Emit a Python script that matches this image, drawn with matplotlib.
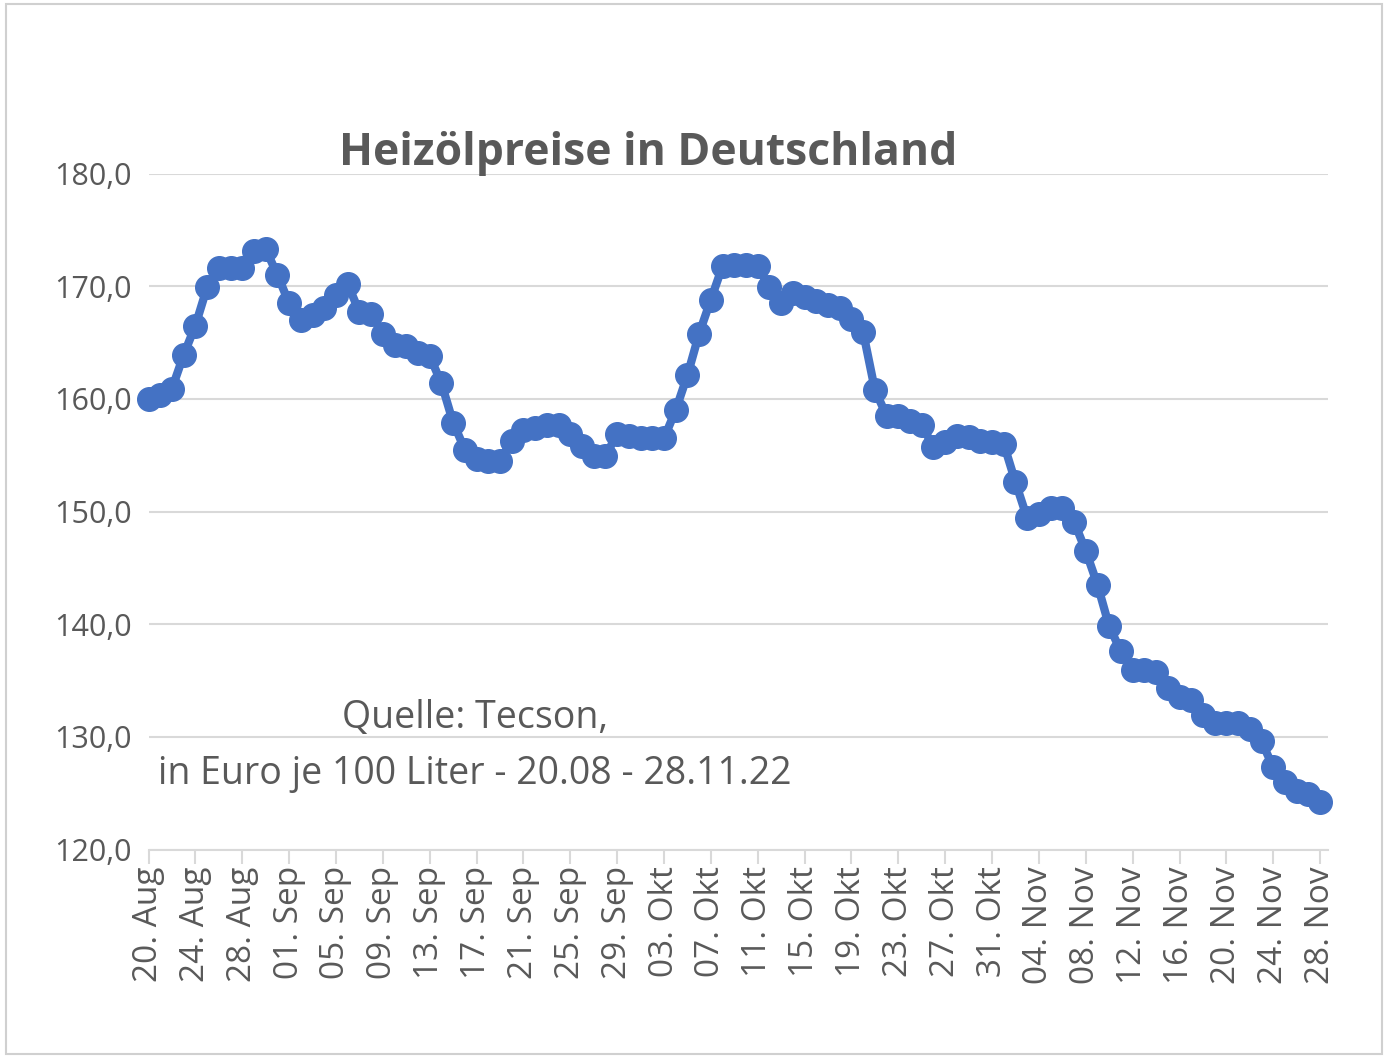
#!/usr/bin/env python3
"""Heizölpreise in Deutschland, 20.08 - 28.11.22."""

import datetime as dt

import matplotlib

matplotlib.use("Agg")
import matplotlib.pyplot as plt
from matplotlib.patches import Rectangle

START = dt.date(2022, 8, 20)
PRICES = [
    160.0, 160.3, 160.9, 163.9, 166.5, 169.9, 171.6, 171.6, 171.6, 173.1,
    173.3, 171.0, 168.5, 167.0, 167.4, 168.1, 169.2, 170.2, 167.7, 167.5,
    165.8, 164.8, 164.7, 164.1, 163.8, 161.4, 157.9, 155.5, 154.7, 154.5,
    154.5, 156.3, 157.2, 157.4, 157.7, 157.7, 156.9, 155.8, 154.9, 154.9,
    156.9, 156.7, 156.5, 156.5, 156.5, 159.0, 162.1, 165.8, 168.8, 171.8,
    171.9, 171.9, 171.8, 169.9, 168.5, 169.4, 169.0, 168.7, 168.3, 168.1,
    167.1, 165.9, 160.8, 158.5, 158.5, 158.0, 157.7, 155.7, 156.2, 156.7,
    156.6, 156.3, 156.2, 156.0, 152.6, 149.4, 149.8, 150.3, 150.3, 149.1,
    146.5, 143.5, 139.8, 137.6, 135.9, 135.9, 135.8, 134.3, 133.5, 133.3,
    131.9, 131.2, 131.2, 131.2, 130.7, 129.6, 127.3, 126.0, 125.2, 124.9,
    124.2,
]
MONTHS = {8: "Aug", 9: "Sep", 10: "Okt", 11: "Nov"}
Y_TICKS = [120, 130, 140, 150, 160, 170, 180]

FONT = "Open Sans"
GREY = "#595959"
BLUE = "#4472C4"

days = list(range(len(PRICES)))
tick_pos = list(range(0, len(PRICES), 4))
tick_labels = []
for d in tick_pos:
    date = START + dt.timedelta(days=d)
    tick_labels.append(f"{date.day:02d}. {MONTHS[date.month]}")

fig = plt.figure(figsize=(13.88, 10.58), dpi=100)
fig.patches.append(Rectangle((0.004, 0.004), 0.992, 0.992, transform=fig.transFigure,
                             fill=False, edgecolor="#d0d0d0", linewidth=1.5))
ax = fig.add_axes([0.107, 0.197, 0.85, 0.639])

ax.plot(days, PRICES, color=BLUE, linewidth=6, marker="o", markersize=17,
        markerfacecolor=BLUE, markeredgecolor=BLUE, zorder=3, clip_on=False)

ax.set_xlim(0, len(PRICES) - 1 + 0.7)
ax.set_ylim(120, 180)
ax.set_yticks(Y_TICKS)
ax.set_yticklabels([f"{v},0" for v in Y_TICKS], fontsize=22, color=GREY, family=FONT)
ax.set_xticks(tick_pos)
ax.set_xticklabels(tick_labels, rotation=90, fontsize=24, color=GREY, family=FONT)
ax.tick_params(axis="y", length=0, pad=12)
ax.tick_params(axis="x", length=10, color="#d9d9d9", width=1.5, pad=2)
ax.grid(axis="y", color="#d9d9d9", linewidth=1.5, zorder=0)
for side in ("top", "right", "left"):
    ax.spines[side].set_visible(False)
ax.spines["bottom"].set_color("#d9d9d9")
ax.spines["bottom"].set_linewidth(1.5)
ax.set_axisbelow(True)

fig.text(0.467, 0.855, "Heizölpreise in Deutschland", ha="center", va="center",
         fontsize=32, fontweight="bold", color=GREY, family=FONT)
fig.text(0.342, 0.321, "Quelle: Tecson,", ha="center", va="center",
         fontsize=27, color=GREY, family=FONT)
fig.text(0.342, 0.268, "in Euro je 100 Liter - 20.08 - 28.11.22", ha="center",
         va="center", fontsize=27, color=GREY, family=FONT)

fig.savefig("out.png", dpi=100)
